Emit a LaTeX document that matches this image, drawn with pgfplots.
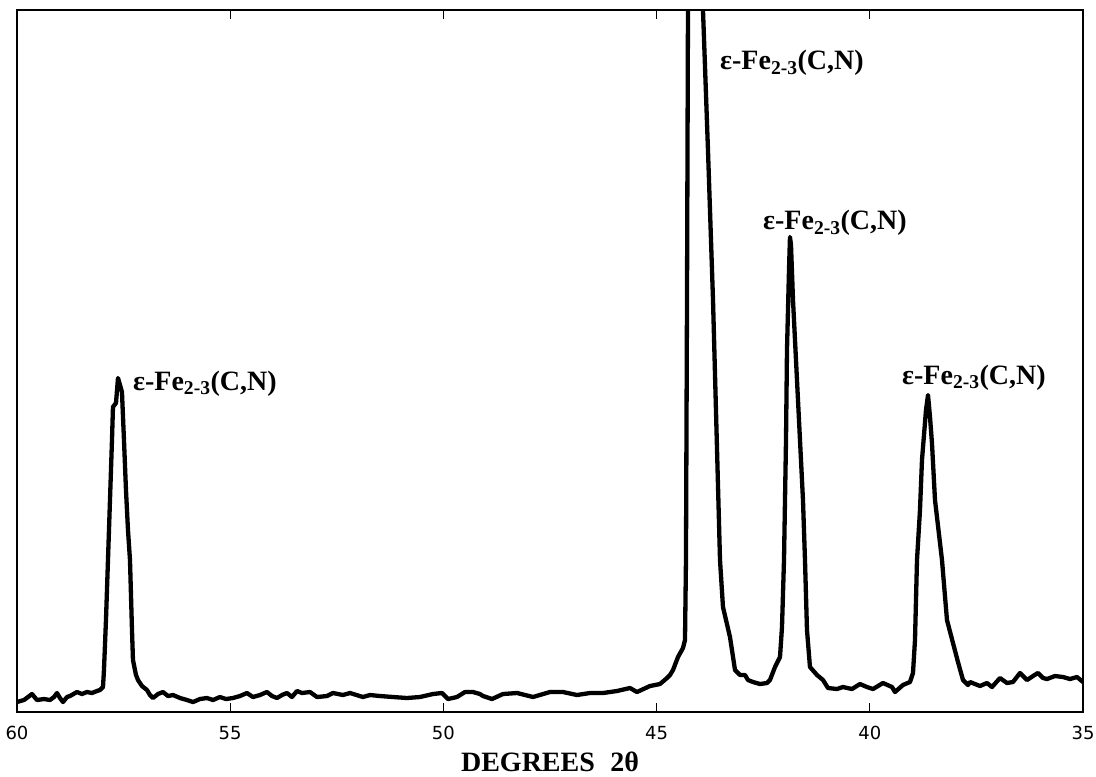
\documentclass[border=0pt]{standalone}
\usepackage{fontspec}
\setmainfont{Liberation Serif}
\newfontfamily\ticksans{DejaVu Sans}
\usepackage{pgfplots}
\pgfplotsset{compat=1.18}
\begin{document}
\begin{tikzpicture}
\begin{axis}[
  scale only axis,
  width=1066pt, height=702pt,
  x dir=reverse,
  xmin=35, xmax=60, ymin=0, ymax=702,
  xtick={35,40,45,50,55,60},
  ytick=\empty,
  tick align=inside,
  major tick length=9pt,
  every tick/.style={black, line width=1.1pt},
  axis line style={line width=1.4pt},
  /pgf/number format/assume math mode=true,
  xticklabel style={font=\ticksans\fontsize{18}{18}\selectfont, anchor=north, yshift=-14pt, inner sep=0pt},
  xlabel={DEGREES\hspace{0.55em}2θ},
  xlabel style={at={(axis description cs:0.5,0)}, anchor=north, yshift=-40pt, inner sep=0pt, font=\bfseries\fontsize{28}{28}\selectfont},
  clip=true,
]
\addplot[black, line width=4.3pt, line join=round, line cap=round] coordinates {
(60.000,10) (59.836,12) (59.648,18) (59.531,12) (59.367,13) (59.226,12) (59.132,15) (59.062,19)
(58.992,14) (58.921,10) (58.827,15) (58.757,16) (58.593,20) (58.476,18) (58.358,20) (58.241,19)
(58.124,21) (58.053,22) (57.983,25)
(57.960,42) (57.913,92) (57.866,152) (57.819,212) (57.772,272) (57.749,305) (57.678,309) (57.631,334)
(57.584,327) (57.538,320) (57.491,272) (57.444,222) (57.397,182) (57.350,152) (57.303,82) (57.280,52)
(57.209,37) (57.162,32) (57.068,26) (56.951,22) (56.881,17) (56.811,14) (56.693,18) (56.576,20)
(56.459,16) (56.341,17) (56.177,14) (56.013,12) (55.872,10) (55.708,13) (55.544,14) (55.403,12)
(55.239,15) (55.099,13) (54.934,14) (54.770,16) (54.606,19) (54.465,15) (54.301,17) (54.137,20)
(54.020,16) (53.902,14) (53.785,17) (53.668,19) (53.551,15) (53.433,21) (53.316,19) (53.129,20)
(52.964,15) (52.730,16) (52.589,19) (52.355,17) (52.190,19) (51.886,15) (51.721,17) (51.487,16)
(51.182,15) (50.854,14) (50.549,15) (50.244,18) (50.033,19) (49.892,13) (49.681,15) (49.494,20)
(49.306,20) (49.142,18) (49.071,16) (48.860,13) (48.602,18) (48.274,19) (47.899,15) (47.500,20)
(47.195,20) (46.867,17) (46.562,19) (46.257,19) (45.929,21) (45.624,24) (45.460,20) (45.155,26)
(44.920,28) (44.756,34) (44.686,37) (44.615,42) (44.498,55) (44.381,64) (44.334,72) (44.311,152)
(44.287,412) (44.264,702) (44.100,1012) (43.912,702) (43.795,562) (43.677,412) (43.513,152) (43.443,105)
(43.279,75) (43.161,42) (43.044,37) (42.927,37) (42.857,32) (42.739,30) (42.575,28) (42.411,29)
(42.341,32) (42.223,45) (42.106,55) (42.059,85) (42.012,152) (41.965,272) (41.942,362) (41.895,442)
(41.872,475) (41.848,467) (41.801,412) (41.684,312) (41.567,212) (41.520,152) (41.473,82) (41.403,45)
(41.238,37) (41.098,32) (40.980,24) (40.769,23) (40.629,25) (40.418,23) (40.230,28) (40.066,25)
(39.925,23) (39.691,29) (39.479,25) (39.409,20) (39.222,27) (39.057,30) (38.987,39) (38.940,72)
(38.893,152) (38.823,202) (38.776,252) (38.682,302) (38.635,317) (38.588,295) (38.542,269) (38.471,212)
(38.307,152) (38.190,92) (38.049,69) (37.932,50) (37.814,32) (37.697,27) (37.650,30) (37.416,26) (37.252,29)
(37.134,25) (36.947,34) (36.783,29) (36.642,30) (36.478,39) (36.313,32) (36.173,36) (36.056,39)
(35.938,34) (35.844,33) (35.657,36) (35.469,35) (35.305,33) (35.141,35) (35.000,30)
};
\begin{scope}[every node/.style={inner sep=0pt, anchor=base west, font=\bfseries\fontsize{28}{28}\selectfont}]
\node at (axis cs:57.280,322) {ε-Fe\textsubscript{2-3}(C,N)};
\node at (axis cs:43.513,642) {ε-Fe\textsubscript{2-3}(C,N)};
\node at (axis cs:42.505,482) {ε-Fe\textsubscript{2-3}(C,N)};
\node at (axis cs:39.245,328) {ε-Fe\textsubscript{2-3}(C,N)};
\end{scope}
\end{axis}
\pgfresetboundingbox
\path (current axis.south west) ++(-17pt,-64pt) coordinate (bbA);
\path (current axis.north east) ++(13pt,10pt) coordinate (bbB);
\path[use as bounding box] (bbA) rectangle (bbB);
\end{tikzpicture}
\end{document}
